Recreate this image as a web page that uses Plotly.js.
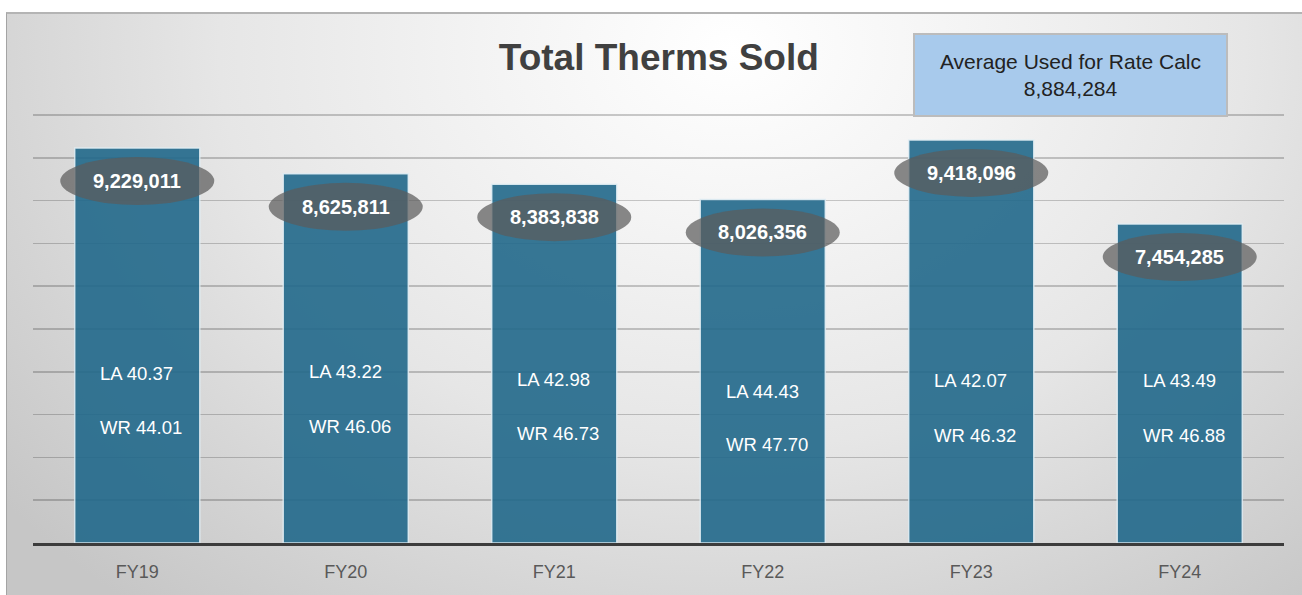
<!DOCTYPE html>
<html>
<head>
<meta charset="utf-8">
<script src="https://cdn.plot.ly/plotly-3.0.1.min.js"></script>
<style>
  html, body { margin: 0; padding: 0; background: #ffffff; width: 1302px; height: 595px; overflow: hidden; }
  #bg {
    position: absolute; left: 6px; top: 12px; right: 0; bottom: 0;
    border-left: 1px solid #a4a4a4; border-top: 2px solid #b4b4b4;
    background: radial-gradient(ellipse 72% 125% at 56% 6%, #ffffff 0%, #f4f4f4 25%, #e6e6e6 55%, #d4d4d4 80%, #c6c6c6 100%);
  }
  #chart { position: absolute; left: 0; top: 0; width: 1302px; height: 595px; }
</style>
</head>
<body>
<div id="bg"></div>
<div id="chart"></div>
<script>
// ---- data ----
const categories = ['FY19', 'FY20', 'FY21', 'FY22', 'FY23', 'FY24'];
const thermsSold = [9229011, 8625811, 8383838, 8026356, 9418096, 7454285];
const laRates = [40.37, 43.22, 42.98, 44.43, 42.07, 43.49];
const wrRates = [44.01, 46.06, 46.73, 47.70, 46.32, 46.88];
const averageUsed = 8884284;
const chartTitle = 'Total Therms Sold';
const boxTitle = 'Average Used for Rate Calc';

// ---- layout-only positions for the rate labels (y in axis units) ----
const laLabelY = [3.95e6, 4.0e6, 3.81e6, 3.55e6, 3.79e6, 3.79e6];
const wrLabelY = [2.71e6, 2.73e6, 2.55e6, 2.31e6, 2.52e6, 2.52e6];

const fmt = v => v.toLocaleString('en-US');
const FONT = 'Liberation Sans, Arial, sans-serif';

const trace = {
  type: 'bar',
  x: categories,
  y: thermsSold,
  marker: {
    color: 'rgb(34,105,139)',
    opacity: 0.9,
    line: { color: 'rgba(225,238,245,0.9)', width: 1.5 }
  },
  hoverinfo: 'skip'
};

const shapes = [];
const annotations = [];

categories.forEach((c, i) => {
  shapes.push({
    type: 'circle', layer: 'above',
    xref: 'x', yref: 'y',
    xsizemode: 'pixel', ysizemode: 'pixel',
    xanchor: i, yanchor: thermsSold[i],
    x0: -77, x1: 77, y0: -57, y1: -9,
    fillcolor: 'rgba(92,92,92,0.72)',
    line: { width: 0 }
  });
  annotations.push({
    xref: 'x', yref: 'y', x: i, y: thermsSold[i],
    yshift: -33, xanchor: 'center', yanchor: 'middle',
    text: '<b>' + fmt(thermsSold[i]) + '</b>', showarrow: false,
    font: { family: FONT, size: 20, color: '#ffffff' }
  });
  annotations.push({
    xref: 'x', yref: 'y', x: i, y: laLabelY[i],
    xshift: -39, xanchor: 'left', yanchor: 'middle',
    text: 'LA ' + laRates[i].toFixed(2), showarrow: false,
    font: { family: FONT, size: 18.5, color: '#ffffff' }
  });
  annotations.push({
    xref: 'x', yref: 'y', x: i, y: wrLabelY[i],
    xshift: -39, xanchor: 'left', yanchor: 'middle',
    text: 'WR ' + wrRates[i].toFixed(2), showarrow: false,
    font: { family: FONT, size: 18.5, color: '#ffffff' }
  });
});

annotations.push({
  xref: 'paper', yref: 'paper', x: 0.8293, y: 1.0884,
  xanchor: 'center', yanchor: 'middle',
  width: 311, height: 80, borderpad: 0,
  bgcolor: '#a8caec', bordercolor: '#bcbcbc', borderwidth: 2,
  text: boxTitle + '<br>' + fmt(averageUsed), showarrow: false,
  font: { family: FONT, size: 21, color: '#222222' }
});

const layout = {
  width: 1302, height: 595,
  margin: { l: 33, r: 18, t: 113, b: 52 },
  paper_bgcolor: 'rgba(0,0,0,0)',
  plot_bgcolor: 'rgba(0,0,0,0)',
  showlegend: false,
  bargap: 0.4,
  title: {
    text: '<b>' + chartTitle + '</b>',
    x: 0.506, xanchor: 'center',
    y: 0.904, yanchor: 'middle',
    font: { family: FONT, size: 37, color: '#404040' }
  },
  xaxis: {
    type: 'category',
    showgrid: false, zeroline: false,
    showline: true, linecolor: '#3c3c3c', linewidth: 2.5,
    ticks: '', ticklabelstandoff: 11,
    tickfont: { family: FONT, size: 18, color: '#595959' }
  },
  yaxis: {
    range: [0, 10.047e6],
    dtick: 1e6, tick0: 0,
    showgrid: true, gridcolor: 'rgba(0,0,0,0.2)', gridwidth: 1.5,
    zeroline: false, showline: false, showticklabels: false, ticks: ''
  },
  shapes: shapes,
  annotations: annotations
};

Plotly.newPlot('chart', [trace], layout, { displayModeBar: false, staticPlot: true });
</script>
</body>
</html>
